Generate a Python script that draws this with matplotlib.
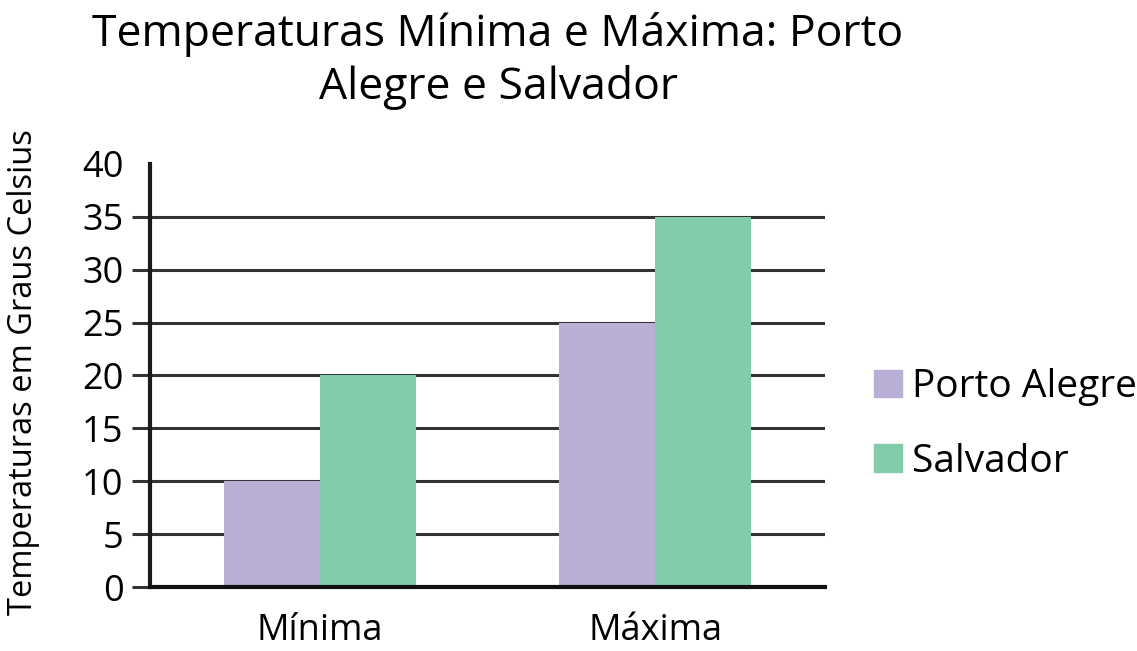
import matplotlib
matplotlib.use("Agg")
import numpy as np
from matplotlib import pyplot as plt
from matplotlib.patches import Patch

categories = ["Mínima", "Máxima"]
porto_alegre = [10, 25]
salvador = [20, 35]
series_names = ["Porto Alegre", "Salvador"]
y_ticks = [0, 5, 10, 15, 20, 25, 30, 35, 40]

PURPLE = "#b9afd6"
GREEN = "#82cca9"

plt.rcParams["font.family"] = ["Open Sans", "DejaVu Sans"]

fig = plt.figure(figsize=(11.37, 6.51), dpi=100)
ax = fig.add_axes([0.1319, 0.0983, 0.5937, 0.650])

x = np.arange(len(categories))
w = 0.287
ax.bar(x - w / 2, porto_alegre, width=w, color=PURPLE, zorder=3)
ax.bar(x + w / 2, salvador, width=w, color=GREEN, zorder=3)

ax.set_xlim(-0.507, 1.507)
ax.set_ylim(0, 40)
ax.set_yticks(y_ticks)
ax.set_xticks(x)
ax.set_xticklabels(categories, fontsize=26)
ax.tick_params(axis="x", length=0, pad=19)
ax.tick_params(axis="y", labelsize=26, length=13, width=2.2, color="#333333", pad=6)

ax.grid(axis="y", color="#333333", linewidth=2.2, zorder=1)
ax.set_axisbelow(True)
last = ax.yaxis.get_major_ticks()[-1]
last.tick1line.set_visible(False)
last.gridline.set_visible(False)

for side in ["top", "right"]:
    ax.spines[side].set_visible(False)
ax.spines["left"].set_linewidth(3)
ax.spines["left"].set_color("#1a1a1a")
ax.spines["bottom"].set_linewidth(3)
ax.spines["bottom"].set_color("#111111")
ax.spines["bottom"].set_zorder(4)

fig.text(0.021, 0.429, "Temperaturas em Graus Celsius", rotation=90,
         fontsize=23.5, ha="center", va="center")

fig.text(0.438, 0.982, "Temperaturas Mínima e Máxima: Porto\nAlegre e Salvador",
         fontsize=32, ha="center", va="top", linespacing=1.25)

handles = [Patch(color=PURPLE), Patch(color=GREEN)]
fig.legend(handles, series_names, loc="center left", bbox_to_anchor=(0.769, 0.348),
           frameon=False, fontsize=28, handlelength=0.7, handleheight=0.7,
           handletextpad=0.26, labelspacing=0.93, borderpad=0, borderaxespad=0)

fig.savefig("out.png", dpi=100)
